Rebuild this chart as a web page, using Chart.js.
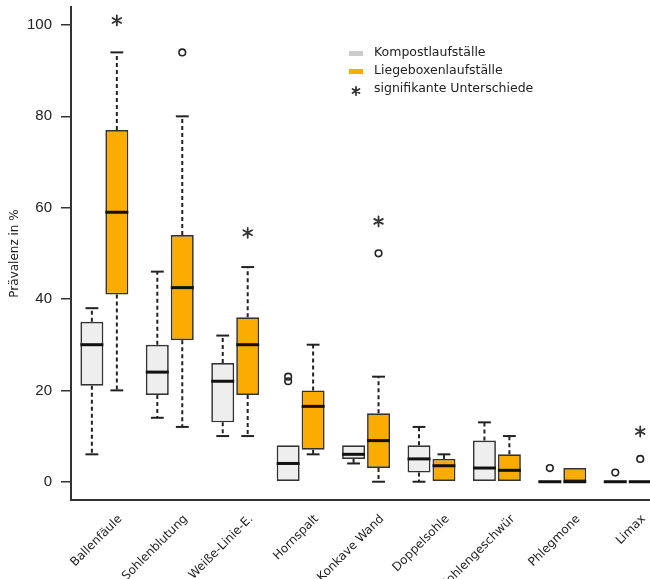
<!DOCTYPE html>
<html>
<head>
<meta charset="utf-8">
<script src="https://cdn.jsdelivr.net/npm/chart.js@4/dist/chart.umd.min.js"></script>
<style>
  html, body { margin: 0; padding: 0; background: #fff; }
  #wrap { width: 650px; height: 579px; position: relative; }
</style>
</head>
<body>
<div id="wrap"><canvas id="chart"></canvas></div>
<script>
// Data
const categories = ['Ballenfäule', 'Sohlenblutung', 'Weiße-Linie-E.', 'Hornspalt', 'Konkave Wand',
  'Doppelsohle', 'Sohlengeschwür', 'Phlegmone', 'Limax'];
const yTicks = [0, 20, 40, 60, 80, 100];

// Kompostlaufställe
const kompostMin = [6, 14, 10, 0, 4, 0, 0, 0, 0];
const kompostQ1 = [21, 19, 13, 0, 5, 2, 0, 0, 0];
const kompostMedian = [30, 24, 22, 4, 6, 5, 3, 0, 0];
const kompostQ3 = [35, 30, 26, 8, 8, 8, 9, 0, 0];
const kompostMax = [38, 46, 32, 8, 8, 12, 13, 0, 0];
const kompostOutliers = [[], [], [], [23, 22], [], [], [], [3], [2]];

// Liegeboxenlaufställe
const liegeMin = [20, 12, 10, 6, 0, 0, 0, 0, 0];
const liegeQ1 = [41, 31, 19, 7, 3, 0, 0, 0, 0];
const liegeMedian = [59, 42.5, 30, 16.5, 9, 3.5, 2.5, 0, 0];
const liegeQ3 = [77, 54, 36, 20, 15, 5, 6, 3, 0];
const liegeMax = [94, 80, 47, 30, 23, 6, 10, 3, 0];
const liegeOutliers = [[], [94], [], [], [50], [], [], [], [5]];

// signifikante Unterschiede: height of the asterisk (null = none)
const significance = [101, null, 54.5, null, 57, null, null, null, 11];

const groups = [
  { min: kompostMin, q1: kompostQ1, med: kompostMedian, q3: kompostQ3, max: kompostMax, out: kompostOutliers },
  { min: liegeMin, q1: liegeQ1, med: liegeMedian, q3: liegeQ3, max: liegeMax, out: liegeOutliers }
];

const INK = '#222';

function whisker(ctx, x, from, to, cap) {
  if (Math.abs(from - to) < 0.5) return;
  ctx.setLineDash([4, 3]);
  ctx.lineWidth = 2;
  ctx.beginPath();
  ctx.moveTo(x, from);
  ctx.lineTo(x, to);
  ctx.stroke();
  ctx.setLineDash([]);
  ctx.lineWidth = 2;
  ctx.beginPath();
  ctx.moveTo(x - cap, to);
  ctx.lineTo(x + cap, to);
  ctx.stroke();
}

// asterisk: three crossing strokes
function star(ctx, x, y, r) {
  ctx.save();
  ctx.strokeStyle = '#333';
  ctx.lineWidth = 1.8;
  ctx.lineCap = 'round';
  ctx.beginPath();
  [90, 30, 150].forEach(deg => {
    const a = deg * Math.PI / 180;
    ctx.moveTo(x - r * Math.cos(a), y - r * Math.sin(a));
    ctx.lineTo(x + r * Math.cos(a), y + r * Math.sin(a));
  });
  ctx.stroke();
  ctx.restore();
}

// whiskers, medians, outliers and asterisks drawn around the floating bars
const boxPlot = {
  id: 'boxPlot',
  beforeDatasetsDraw(chart) {
    const ctx = chart.ctx, ys = chart.scales.y;
    ctx.save();
    ctx.strokeStyle = INK;
    groups.forEach((g, d) => {
      chart.getDatasetMeta(d).data.forEach((bar, i) => {
        const cap = bar.width * 0.28;
        whisker(ctx, bar.x, ys.getPixelForValue(g.q3[i]), ys.getPixelForValue(g.max[i]), cap);
        whisker(ctx, bar.x, ys.getPixelForValue(g.q1[i]), ys.getPixelForValue(g.min[i]), cap);
      });
    });
    ctx.restore();
  },
  afterDatasetsDraw(chart) {
    const ctx = chart.ctx, ys = chart.scales.y;
    ctx.save();
    groups.forEach((g, d) => {
      chart.getDatasetMeta(d).data.forEach((bar, i) => {
        const half = bar.width / 2;
        const ym = ys.getPixelForValue(g.med[i]);
        ctx.strokeStyle = '#111';
        ctx.lineWidth = 3;
        ctx.beginPath();
        ctx.moveTo(bar.x - half, ym);
        ctx.lineTo(bar.x + half, ym);
        ctx.stroke();
        ctx.strokeStyle = INK;
        ctx.lineWidth = 1.6;
        g.out[i].forEach(v => {
          ctx.beginPath();
          ctx.arc(bar.x, ys.getPixelForValue(v), 3.3, 0, Math.PI * 2);
          ctx.stroke();
        });
      });
    });
    const liegeBars = chart.getDatasetMeta(1).data;
    significance.forEach((v, i) => {
      if (v !== null) star(ctx, liegeBars[i].x, ys.getPixelForValue(v), 5);
    });
    ctx.restore();
  },
  afterDraw(chart) {
    // legend
    const ctx = chart.ctx;
    const items = [
      { label: chart.data.datasets[0].label, color: '#cccccc' },
      { label: chart.data.datasets[1].label, color: '#fcac00' },
      { label: 'signifikante Unterschiede', star: true }
    ];
    ctx.save();
    items.forEach((it, k) => {
      const y = 53 + k * 18;
      if (it.star) {
        star(ctx, 356, y + 2, 4);
      } else {
        ctx.fillStyle = it.color;
        ctx.fillRect(349, y - 2, 14, 5);
      }
      ctx.font = '12.5px "DejaVu Sans"';
      ctx.fillStyle = INK;
      ctx.textAlign = 'left';
      ctx.textBaseline = 'middle';
      ctx.fillText(it.label, 374, y);
    });
    ctx.restore();
  }
};

const ctx = document.getElementById('chart');
new Chart(ctx, {
  type: 'bar',
  data: {
    datasets: [{
      label: 'Kompostlaufställe',
      data: categories.map((c, i) => ({ x: i, y: [kompostQ1[i], kompostQ3[i]] })),
      backgroundColor: '#eeeeee',
      borderColor: '#333',
      borderWidth: 1.7,
      borderSkipped: false
    }, {
      label: 'Liegeboxenlaufställe',
      data: categories.map((c, i) => ({ x: i, y: [liegeQ1[i], liegeQ3[i]] })),
      backgroundColor: '#fcac00',
      borderColor: '#333',
      borderWidth: 1.7,
      borderSkipped: false
    }]
  },
  options: {
    responsive: true,
    maintainAspectRatio: false,
    animation: false,
    categoryPercentage: 0.763,
    barPercentage: 0.92,
    layout: { padding: { top: 7, left: 0, right: 0, bottom: 0 } },
    plugins: { legend: { display: false }, tooltip: { enabled: false } },
    scales: {
      x: {
        type: 'linear',
        offset: false,
        min: -0.51,
        max: 8.34,
        afterBuildTicks: s => { s.ticks = categories.map((c, i) => ({ value: i })); },
        afterFit: s => { s.height = 79; s.paddingLeft = 0; s.paddingRight = 0; },
        grid: { display: false },
        border: { display: true, color: '#333', width: 2 },
        ticks: {
          callback: (v, i) => categories[i],
          autoSkip: false,
          minRotation: 45,
          maxRotation: 45,
          labelOffset: 16,
          padding: 4,
          color: INK,
          font: { family: 'DejaVu Sans', size: 12 }
        }
      },
      y: {
        min: -4,
        max: 103.94,
        afterBuildTicks: s => { s.ticks = yTicks.map(v => ({ value: v })); },
        afterFit: s => { s.width = 71; s.paddingTop = 0; s.paddingBottom = 0; },
        grid: { drawOnChartArea: false, drawTicks: true, tickLength: 10, color: '#333', lineWidth: 1.5 },
        border: { display: true, color: '#333', width: 2 },
        ticks: { color: INK, padding: 9, font: { family: 'Liberation Sans', size: 15 } },
        title: {
          display: true,
          text: 'Prävalenz in %',
          color: INK,
          font: { family: 'DejaVu Sans', size: 12 },
          padding: { top: 8, bottom: 0 }
        }
      }
    }
  },
  plugins: [boxPlot]
});
</script>
</body>
</html>
